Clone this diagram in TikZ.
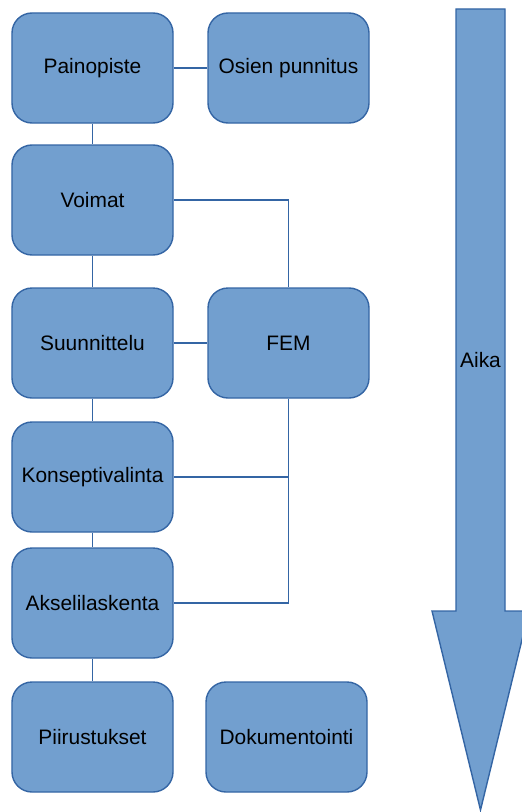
\documentclass[tikz,border=0pt]{standalone}
\usepackage{fontspec}
\setmainfont{Liberation Sans}
\usepackage{tikz}
\usepackage{xcolor}
\usetikzlibrary{positioning}
\definecolor{boxfill}{HTML}{729FCF}
\definecolor{boxline}{HTML}{3465A4}
\tikzset{
    box/.style={draw=boxline, line width=1.4bp, fill=boxfill, rounded corners=20bp,
        minimum width=161bp, minimum height=110bp, inner sep=0pt,
        font=\fontsize{21}{24}\selectfont},
    link/.style={draw=boxline, line width=1.6bp}
}
\begin{document}
\begin{tikzpicture}[x=1bp, y=-1bp]
        \useasboundingbox (0,0) rectangle (522,812);
        \foreach \n/\y/\t in {paino/68/Painopiste, voimat/200/Voimat, suunn/343/Suunnittelu, konsepti/477/Konseptivalinta, akseli/603/Akselilaskenta, piirus/737/Piirustukset} {
            \node[box] (\n) at (92.5, \y) {\t};
        }
        \node[box] (osien) at (288.5, 68) {Osien punnitus};
        \node[box] (fem) at (288.5, 343) {FEM};
        \node[box] (dokum) at (286.5, 737) {Dokumentointi};

        \draw[link] (paino) -- (osien);
        \draw[link] (paino) -- (voimat);
        \draw[link] (voimat) -- (suunn);
        \draw[link] (suunn) -- (konsepti);
        \draw[link] (konsepti) -- (akseli);
        \draw[link] (akseli) -- (piirus);
        \draw[link] (suunn) -- (fem);
        \draw[link] (voimat.east) -| (fem.north);
        \draw[link] (fem.south) |- (konsepti.east);
        \draw[link] (fem.south) |- (akseli.east);

        \draw[draw=boxline, line width=1.4bp, fill=boxfill] (456, 9) -- (505, 9) -- (505, 611) -- (529, 611)
            -- (480.5, 810) -- (432, 611) -- (456, 611) -- cycle;
        \node[font=\fontsize{21}{24}\selectfont] (aika) at (480.5, 360) {Aika};
    \end{tikzpicture}
\end{document}
